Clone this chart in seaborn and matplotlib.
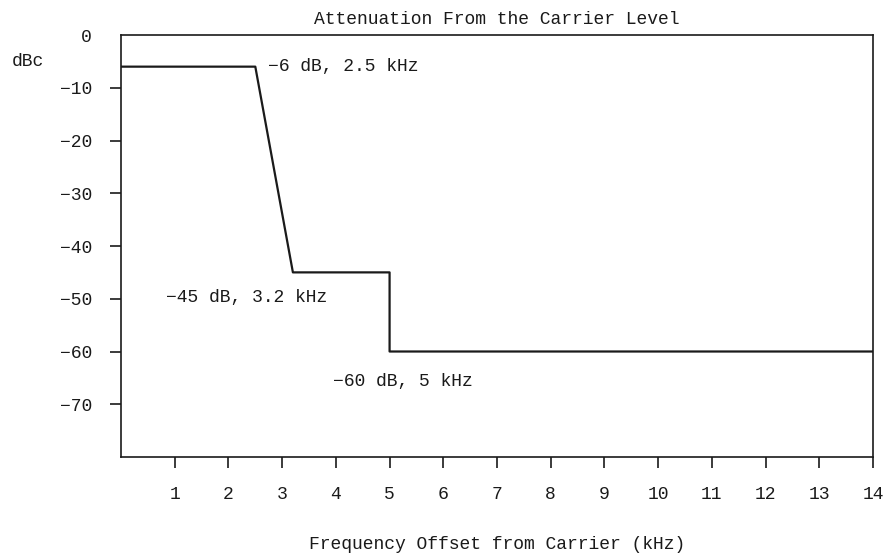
import matplotlib
matplotlib.use("Agg")
import matplotlib.pyplot as plt
import seaborn as sns
import pandas as pd

freq_khz = [0, 2.5, 3.2, 5, 5, 14]
atten_dbc = [-6, -6, -45, -45, -60, -60]
xticks = list(range(1, 15))
yticks = [-70, -60, -50, -40, -30, -20, -10, 0]
labels = ["\u22126 dB, 2.5 kHz", "\u221245 dB, 3.2 kHz", "\u221260 dB, 5 kHz"]
label_x = [2.74, 0.84, 3.95]
label_y = [-5.9, -49.7, -65.6]

sns.set_theme(style="white")
plt.rcParams['font.family'] = ['Liberation Mono', 'DejaVu Sans']
plt.rcParams['axes.unicode_minus'] = True

fig = plt.figure(figsize=(8.86, 5.53), dpi=100)
ax = fig.add_axes([0.1366, 0.1736, 0.8487, 0.7631])

df = pd.DataFrame({"f": freq_khz, "a": atten_dbc})
sns.lineplot(data=df, x="f", y="a", sort=False, estimator=None, color="#1a1a1a", linewidth=1.6, ax=ax)

ax.set_xlim(0, 14)
ax.set_ylim(-80, 0)
ax.set_xticks(xticks)
ax.set_xticklabels([str(t) for t in xticks])
ax.set_yticks(yticks)
ax.set_yticklabels([f"{t}".replace("-", "\u2212") for t in yticks])
ax.tick_params(axis="both", direction="out", length=8, width=1.2, color="#1a1a1a",
               labelsize=13, labelcolor="#1a1a1a", pad=13, bottom=True, left=True)
ax.yaxis.get_major_ticks()[-1].tick1line.set_visible(False)
for s in ax.spines.values():
    s.set_color("#1a1a1a")
    s.set_linewidth(1.2)
    s.set_visible(True)

ax.set_xlabel("Frequency Offset from Carrier (kHz)", fontsize=13, color="#1a1a1a", labelpad=24)
ax.set_ylabel("")
ax.set_title("Attenuation From the Carrier Level", fontsize=13, color="#1a1a1a", pad=8)
fig.text(12 / 886, 1 - 62 / 553, "dBc", fontsize=13, color="#1a1a1a", ha="left", va="center")

for t, x, y in zip(labels, label_x, label_y):
    ax.text(x, y, t, fontsize=13, color="#1a1a1a", ha="left", va="center")

fig.savefig("out.png", dpi=100)
